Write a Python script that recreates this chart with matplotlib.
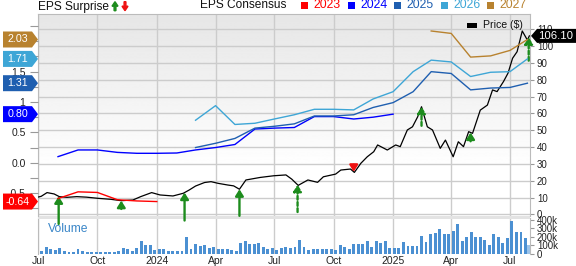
import numpy as np
import pandas as pd
import matplotlib
matplotlib.use("Agg")
import matplotlib.pyplot as plt
import matplotlib.dates as mdates
from matplotlib.patches import Polygon, Rectangle, FancyArrow
from matplotlib.transforms import IdentityTransform

plt.rcParams['font.family'] = ['Liberation Sans', 'DejaVu Sans']

# ---------------- data ----------------
price_dates = ['2023-07-02', '2023-07-06', '2023-07-15', '2023-07-26', '2023-08-03', '2023-08-15',
               '2023-08-30', '2023-09-14', '2023-10-02', '2023-10-22', '2023-11-07', '2023-11-25',
               '2023-12-07', '2023-12-24', '2024-01-06', '2024-01-26', '2024-02-11', '2024-02-20',
               '2024-03-01', '2024-03-15', '2024-03-25', '2024-04-05', '2024-04-20', '2024-04-29',
               '2024-05-08', '2024-05-18', '2024-06-09', '2024-06-30', '2024-07-19', '2024-07-28',
               '2024-08-07', '2024-08-22', '2024-09-06', '2024-09-15', '2024-10-04', '2024-10-12',
               '2024-10-27', '2024-11-02', '2024-11-12', '2024-11-22', '2024-12-02', '2024-12-08',
               '2024-12-23', '2025-01-05', '2025-01-12', '2025-01-23', '2025-01-31', '2025-02-08',
               '2025-02-14', '2025-02-23', '2025-03-03', '2025-03-15', '2025-03-23', '2025-04-04',
               '2025-04-12', '2025-04-20', '2025-04-28', '2025-05-04', '2025-05-16', '2025-05-27',
               '2025-06-04', '2025-06-11', '2025-06-21', '2025-06-28', '2025-07-05', '2025-07-12',
               '2025-07-20', '2025-07-28', '2025-07-31']
price_vals = [10.4, 10.8, 13.0, 12.2, 10.6, 10.2,
              10.6, 10.3, 9.6, 9.0, 8.2, 8.6,
              10.6, 13.0, 11.6, 11.0, 12.6, 14.5,
              16.9, 19.0, 19.5, 18.5, 17.5, 17.0,
              15.0, 20.5, 22.0, 23.0, 23.5, 21.0,
              17.3, 20.5, 19.1, 22.4, 24.0, 26.4,
              27.0, 25.0, 30.4, 34.3, 37.3, 41.3,
              38.3, 41.3, 40.3, 50.2, 52.1, 58.0,
              64.0, 52.1, 50.2, 39.3, 44.2, 34.3,
              43.2, 40.3, 49.2, 48.2, 62.0, 65.0,
              74.0, 73.0, 79.0, 84.0, 92.8, 96.7,
              109.0, 103.6, 106.1]

vol_dates = pd.date_range('2023-07-07', periods=108, freq='7D')
volume_k = [32, 72, 52, 40, 60, 28, 20, 20, 52, 24,
            20, 20, 16, 16, 20, 20, 20, 24, 60, 48,
            32, 60, 152, 96, 96, 40, 48, 48, 32, 32,
            32, 32, 192, 48, 112, 88, 104, 68, 72, 56,
            48, 48, 40, 32, 128, 144, 108, 108, 120, 72,
            56, 60, 40, 60, 72, 60, 72, 160, 72, 40,
            48, 48, 56, 56, 48, 40, 96, 80, 48, 112,
            112, 112, 144, 72, 144, 120, 144, 60,
            60, 60, 135, 85, 95, 95, 210, 140, 235, 240,
            290, 235, 235, 265, 350, 145, 200, 260, 200, 200,
            165, 105, 235, 195, 130, 180, 390, 260, 260, 190]
partial_week_date = '2025-07-30'
partial_week_volume_k = 100

eps_dates_2023 = ['2023-08-01', '2023-09-01', '2023-10-01', '2023-11-01', '2023-12-01', '2024-01-01']
eps_2023 = [-0.59, -0.48, -0.49, -0.61, -0.63, -0.64]

eps_dates_2024 = ['2023-08-01', '2023-09-01', '2023-10-01', '2023-11-01', '2023-12-01', '2024-01-01',
                  '2024-02-01', '2024-03-01', '2024-04-01', '2024-05-01', '2024-06-01', '2024-07-01',
                  '2024-08-01', '2024-09-01', '2024-10-01', '2024-11-01', '2024-12-01', '2025-01-01']
eps_2024 = [0.10, 0.21, 0.21, 0.17, 0.155, 0.155, 0.16, 0.21, 0.25, 0.30, 0.555, 0.57,
            0.58, 0.76, 0.76, 0.72, 0.75, 0.80]

eps_dates_2025 = ['2024-03-01', '2024-04-01', '2024-05-01', '2024-06-01', '2024-07-01', '2024-08-01',
                  '2024-09-01', '2024-10-01', '2024-11-01', '2024-12-01', '2025-01-01', '2025-02-01',
                  '2025-03-01', '2025-04-01', '2025-05-01', '2025-06-01', '2025-07-01', '2025-07-28']
eps_2025 = [0.25, 0.32, 0.40, 0.57, 0.60, 0.64, 0.77, 0.77, 0.79, 0.91, 0.99, 1.17,
            1.50, 1.47, 1.20, 1.23, 1.24, 1.31]

eps_dates_2026 = eps_dates_2025
eps_2026 = [0.70, 0.94, 0.63, 0.65, 0.72, 0.79, 0.88, 0.88, 0.87, 1.05, 1.17, 1.50,
            1.69, 1.66, 1.42, 1.49, 1.50, 1.71]

eps_dates_2027 = ['2025-03-01', '2025-04-01', '2025-05-01', '2025-06-01', '2025-07-01', '2025-07-28']
eps_2027 = [2.17, 2.13, 1.74, 1.76, 1.85, 2.03]

surprise_dates = ['2023-08-02', '2023-11-07', '2024-02-13', '2024-05-08', '2024-08-06',
                  '2024-11-01', '2025-02-14', '2025-05-01', '2025-07-30']
surprise_len = [16.4, 4.9, 16.6, 15.8, 16.2, -4.2, 11.3, 5.2, 13.9]
surprise_dashed = [False, False, False, False, True, False, True, False, True]

tick_dates = ['2023-07-01', '2023-10-01', '2024-01-01', '2024-04-01', '2024-07-01',
              '2024-10-01', '2025-01-01', '2025-04-01', '2025-07-01']
tick_labels = ['Jul', 'Oct', '2024', 'Apr', 'Jul', 'Oct', '2025', 'Apr', 'Jul']
price_ticks = list(range(0, 111, 10))
eps_ticks = [-0.5, 0.0, 0.5, 1.0, 1.5, 2.0]
eps_tick_labels = ['-0.5', '0.0', '0.5', '1', '1.5', '2']
vol_ticks = [0, 100, 200, 300, 400]
vol_tick_labels = ['0', '100k', '200k', '300k', '400k']

years = ['2023', '2024', '2025', '2026', '2027']
year_colors = ['#ff0000', '#0000ff', '#1f5fb0', '#3ea6d6', '#b8822f']

# ---------------- figure ----------------
W, H = 576, 266
fig = plt.figure(figsize=(W / 100, H / 100), dpi=100)


def rect(x0, y0, x1, y1):
    return [x0 / W, 1 - y1 / H, (x1 - x0) / W, (y1 - y0) / H]


GRID = '#cccccc'
SPINE = '#bbbbbb'
GREEN = '#1d8c1d'
RED = '#ee1111'

ax = fig.add_axes(rect(38, 14, 530, 216))
axe = fig.add_axes(rect(38, 14, 530, 216), sharex=ax)
axv = fig.add_axes(rect(38, 218, 530, 253.5), sharex=ax)
axv.set_zorder(0)
ax.set_zorder(1)
axe.set_zorder(2)
axe.patch.set_visible(False)

ax.set_xlim(pd.Timestamp('2023-07-01'), pd.Timestamp('2025-08-01'))
ax.set_ylim(-0.9, 119.1)
axe.set_ylim(-0.878, 2.45)
axv.set_ylim(0, 424)

# gradient background
t = np.linspace(0, 1, 256).reshape(-1, 1)
shade = 255 - 25 * np.clip((t - 0.23) / 0.77, 0, 1)
ax.imshow(shade, cmap='gray', vmin=0, vmax=255, origin='lower', extent=(0, 1, 0, 1),
          transform=ax.transAxes, aspect='auto', zorder=-1)

# grid
tdates = pd.to_datetime(tick_dates)
ax.set_xticks(tdates)
ax.set_yticks(price_ticks)
ax.grid(True, color=GRID, lw=1)
ax.set_axisbelow(True)
axv.grid(True, axis='x', color=GRID, lw=1)
axv.set_axisbelow(True)

# price line
pd_dates = pd.to_datetime(price_dates)
ax.plot(pd_dates, price_vals, color='black', lw=0.9, zorder=3)

# EPS consensus lines
for dts, vals, col in zip([eps_dates_2023, eps_dates_2024, eps_dates_2025, eps_dates_2026, eps_dates_2027],
                          [eps_2023, eps_2024, eps_2025, eps_2026, eps_2027], year_colors):
    axe.plot(pd.to_datetime(dts), vals, color=col, lw=1.0)

# surprise arrows
px = mdates.date2num(pd_dates)
for d, L, dashed in zip(surprise_dates, surprise_len, surprise_dashed):
    dd = pd.Timestamp(d)
    tip = np.interp(mdates.date2num(dd), px, price_vals)
    tail = tip - L
    col = GREEN if L > 0 else RED
    ls = (0, (1.6, 1.0)) if dashed else '-'
    ann = ax.annotate('', xy=(dd, tip), xytext=(dd, tail),
                      arrowprops=dict(arrowstyle='-|>,head_length=0.38,head_width=0.24',
                                      color=col, lw=1.7, linestyle=ls, shrinkA=0, shrinkB=0),
                      annotation_clip=False, zorder=6)
    ann.arrow_patch.set_clip_on(False)

# volume bars
axv.bar(pd.to_datetime(vol_dates), volume_k, width=4.5, color='#4b90d2', zorder=2)
axv.bar([pd.Timestamp(partial_week_date)], [partial_week_volume_k], width=4.5, color='#9cc4ea', zorder=2)

# ticks & spines
ax.yaxis.tick_right()
ax.tick_params(axis='y', right=True, left=False, length=3, width=0.8, color='#999999',
               labelsize=7, pad=2, labelcolor='#222222')
ax.tick_params(axis='x', length=0, labelbottom=False)
for s in ax.spines.values():
    s.set_color(SPINE)
ax.spines['bottom'].set_visible(False)

axe.yaxis.tick_left()
axe.set_yticks(eps_ticks, eps_tick_labels)
axe.set_yticks(np.arange(-0.75, 2.45, 0.25), minor=True)
axe.tick_params(axis='y', which='both', left=True, right=False, length=6, width=0.8,
                color='#999999', labelsize=7.5, pad=3, labelcolor='#222222')
axe.tick_params(axis='x', which='both', bottom=False, labelbottom=False)
for s in axe.spines.values():
    s.set_visible(False)

axv.yaxis.tick_right()
axv.set_yticks(vol_ticks, vol_tick_labels)
axv.tick_params(axis='y', right=True, left=False, length=3, width=0.8, color='#999999',
                labelsize=7, pad=2, labelcolor='#222222')
axv.set_xticks(tdates, tick_labels)
axv.tick_params(axis='x', length=0, labelsize=7.5, pad=1.5, labelcolor='#222222')
for s in axv.spines.values():
    s.set_color(SPINE)
axv.spines['top'].set_visible(False)
axv.spines['bottom'].set_visible(False)

# separator band (below the price panel so arrows stay on top)
fig.add_artist(Rectangle((38, H - 218.5), 492, 3.5, transform=IdentityTransform(),
                         facecolor='#e3e3e3', edgecolor='none', zorder=0.5))

# "Volume" label
fig.text(48 / W, 1 - 229 / H, 'Volume', color='#3a86c8', fontsize=8.7, va='center', ha='left', zorder=0.6)

# ---------------- badges ----------------
ID = IdentityTransform()


def left_badge(val, color):
    y = axe.transData.transform((0, val))[1]
    h = 16
    pts = [(3, y - h / 2), (32, y - h / 2), (38, y), (32, y + h / 2), (3, y + h / 2)]
    fig.add_artist(Polygon(pts, closed=True, transform=ID, facecolor=color, edgecolor='none', zorder=10))
    fig.text(17.5, y, f'{val:.2f}', transform=ID, color='white', fontsize=7.7,
             ha='center', va='center', zorder=11)


for vals, col in zip([eps_2023, eps_2024, eps_2025, eps_2026, eps_2027], year_colors):
    left_badge(vals[-1], col)

py = ax.transData.transform((0, price_vals[-1]))[1]
h = 14
pts = [(531, py), (537, py - h / 2), (576, py - h / 2), (576, py + h / 2), (537, py + h / 2)]
fig.add_artist(Polygon(pts, closed=True, transform=ID, facecolor='black', edgecolor='none', zorder=10))
fig.text(555.5, py, f'{price_vals[-1]:.2f}', transform=ID, color='white', fontsize=8.2,
         ha='center', va='center', zorder=11)

# ---------------- header ----------------
fig.text(38, H - 6.7, 'EPS Surprise', transform=ID, fontsize=8.6, va='center', ha='left', color='#111111')
fig.add_artist(FancyArrow(115, H - 10.7, 0, 9, width=1.8, head_width=6, head_length=4.5,
                          length_includes_head=True, color=GREEN, transform=ID))
fig.add_artist(FancyArrow(125, H - 1.7, 0, -9, width=1.8, head_width=6, head_length=4.5,
                          length_includes_head=True, color=RED, transform=ID))

fig.text(200, H - 5, 'EPS Consensus', transform=ID, fontsize=8.6, va='center', ha='left', color='#111111')
sq_x = [301, 348, 394, 441, 487]
for x0, yr, col in zip(sq_x, years, year_colors):
    fig.add_artist(Rectangle((x0, H - 8.5), 7, 7, transform=ID, facecolor=col, edgecolor='none'))
    fig.text(x0 + 12, H - 5, yr, transform=ID, fontsize=8.8, va='center', ha='left', color=col)

fig.add_artist(Rectangle((467, H - 27.5), 10, 5, transform=ID, facecolor='black', edgecolor='none', zorder=12))
fig.text(483, H - 25, 'Price ($)', transform=ID, fontsize=7.6, va='center', ha='left', color='#111111', zorder=12)

fig.savefig('out.png', dpi=100)
